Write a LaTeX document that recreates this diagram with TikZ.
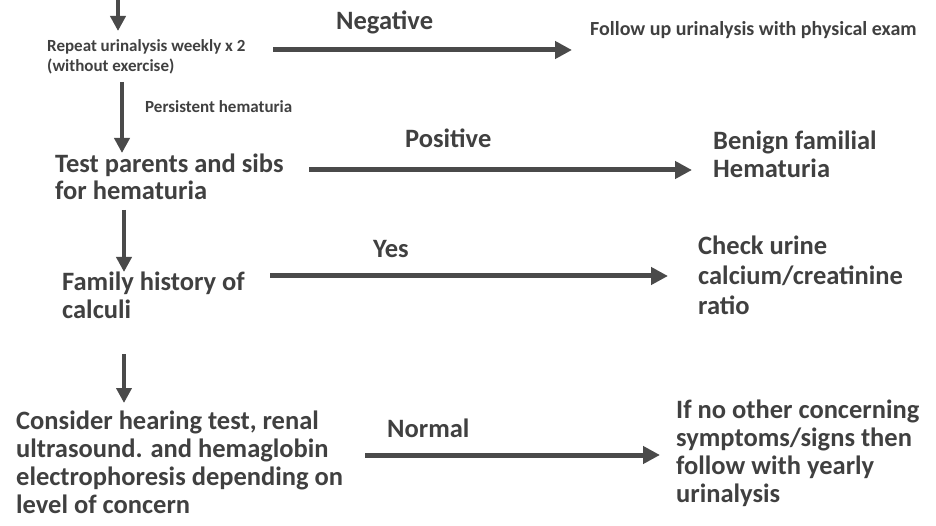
\documentclass[tikz,border=0pt]{standalone}
\usepackage{fontspec}
\setmainfont{Carlito}[BoldFont={* Bold}]
\usetikzlibrary{arrows.meta}
\definecolor{ink}{HTML}{404040}
\definecolor{arrowink}{HTML}{4A4A4A}
\begin{document}
\begin{tikzpicture}[x=1pt,y=-1pt,
  txt/.style={anchor=base west,inner sep=0pt,align=left,text=ink,font=\bfseries\fontsize{26.5}{28}\selectfont},
  small/.style={txt,font=\bfseries\fontsize{17}{20}\selectfont},
  mid/.style={txt,font=\bfseries\fontsize{20}{22}\selectfont},
  harrow/.style={draw=arrowink,line width=5pt,-{Triangle[length=17pt,width=17pt]}},
  varrow/.style={draw=arrowink,line width=4.5pt,-{Triangle[length=15pt,width=15pt]}}]
\useasboundingbox (0,0) rectangle (936,526);
% text nodes (base anchor = baseline of the last line)
\node[small] (rep) at (47,72) {Repeat urinalysis weekly x 2\\(without exercise)};
\node[txt] (neg) at (336,30) {Negative};
\node[mid] (follow) at (590,36) {Follow up urinalysis with physical exam};
\node[small] (pers) at (145,113) {Persistent hematuria};
\node[txt,font=\bfseries\fontsize{26.5}{27}\selectfont] (test) at (55,200) {Test parents and sibs\\for hematuria};
\node[txt] (pos) at (405,148) {Positive};
\node[txt] (benign) at (713,178) {Benign familial\\Hematuria};
\node[txt] (family) at (62,318) {Family history of\\calculi};
\node[txt] (yes) at (373,258) {Yes};
\node[txt,font=\bfseries\fontsize{26.5}{30}\selectfont] (check) at (698,315) {Check urine\\calcium/creatinine\\ratio};
\node[txt,font=\bfseries\fontsize{26.5}{27.7}\selectfont] (consider) at (16,513) {Consider hearing test, renal\\ultrasound. and hemaglobin\\electrophoresis depending on\\level of concern};
\node[txt] (normal) at (387,437) {Normal};
\node[txt] (ifno) at (676,502) {If no other concerning\\symptoms/signs then\\follow with yearly\\urinalysis};
% arrow end points
\coordinate (v0s) at (118,0);
\coordinate (v0e) at (118,31);
\coordinate (v1s) at (122,82);
\coordinate (v1e) at (122,153);
\coordinate (v2s) at (124,210);
\coordinate (v2e) at (124,272);
\coordinate (v3s) at (124,354);
\coordinate (v3e) at (124,403);
\coordinate (h1s) at (273,50);
\coordinate (h1e) at (572,50);
\coordinate (h2s) at (309,170);
\coordinate (h2e) at (692,170);
\coordinate (h3s) at (270,276);
\coordinate (h3e) at (668,276);
\coordinate (h4s) at (365,455);
\coordinate (h4e) at (660,455);
% arrows
\draw[varrow] (v0s) -- (v0e);
\draw[varrow] (v1s) -- (v1e);
\draw[varrow] (v2s) -- (v2e);
\draw[varrow] (v3s) -- (v3e);
\draw[harrow] (h1s) -- (h1e);
\draw[harrow] (h2s) -- (h2e);
\draw[harrow] (h3s) -- (h3e);
\draw[harrow] (h4s) -- (h4e);
\end{tikzpicture}
\end{document}
